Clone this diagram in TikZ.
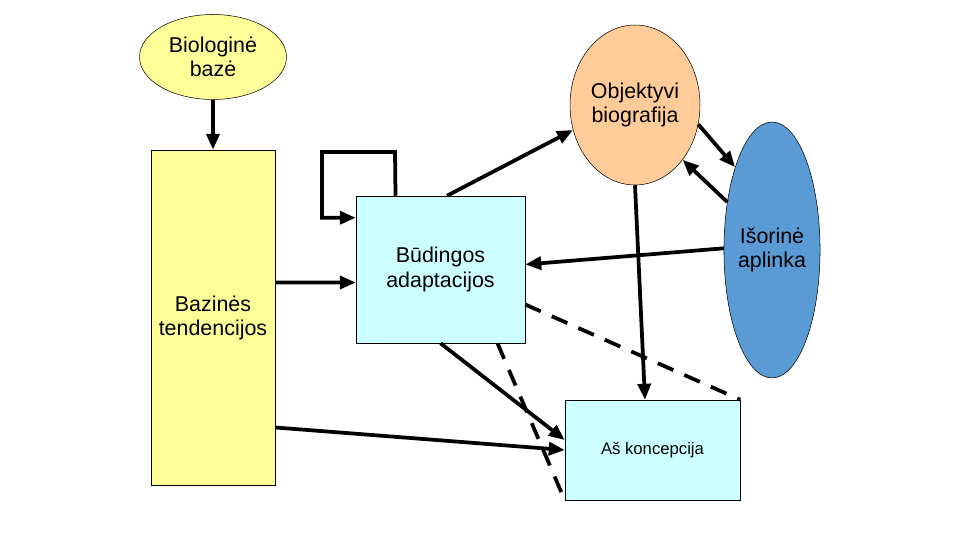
\documentclass[tikz,border=0pt]{standalone}
\usepackage{fontspec}
\setmainfont{Liberation Sans}
\usetikzlibrary{shapes.geometric, arrows.meta, positioning, calc}
\definecolor{lightyel}{HTML}{FFFF99}
\definecolor{peach}{HTML}{FFCC99}
\definecolor{paleblue}{HTML}{CCFFFF}
\definecolor{midblue}{HTML}{5B9BD5}
\tikzset{
  box/.style={draw, rectangle, line width=0.3pt, align=center, inner sep=0pt},
  blob/.style={draw, ellipse, line width=0.3pt, align=center, inner sep=0pt},
  arr/.style={-{Triangle[length=3.2mm,width=2.6mm]}, line width=0.75mm},
  dashlink/.style={line width=0.75mm, dash pattern=on 3.4mm off 2.4mm}
}
\begin{document}
\begin{tikzpicture}[x=0.02cm, y=-0.02cm, font=\fontsize{12.2}{14}\selectfont]
\useasboundingbox (0,0) rectangle (960,540);

% Ellipses
\node (bio) [blob, fill=lightyel, minimum width=2.94cm, minimum height=1.7cm] at (213,57) {Biologinė\\bazė};
\node (obj) [blob, fill=peach, minimum width=2.6cm, minimum height=3.2cm] at (635,105) {Objektyvi\\biografija};
\node (isor) [blob, fill=midblue, minimum width=1.9cm, minimum height=5.12cm] at (772,250) {Išorinė\\aplinka};

% Blocks
\node (baz) [box, fill=lightyel, minimum width=2.48cm, minimum height=6.7cm] at (213,317.5) {};
\node (baztxt) [align=center] at (213,318) {Bazinės\\tendencijos};
\node (bud) [box, fill=paleblue, minimum width=3.38cm, minimum height=2.94cm] at (440.5,269.5) {Būdingos\\adaptacijos};
\node (as) [box, fill=paleblue, minimum width=3.5cm, minimum height=2cm, font=\fontsize{9.5}{11}\selectfont] at (652.5,450) {\raisebox{-0.1cm}{Aš koncepcija}};

% Loop on the adaptations block
\coordinate (loopa) at (395,152);
\coordinate (loopb) at (322,152);
\draw[arr] ([xshift=-0.9cm]bud.north) -- (loopa) -- (loopb) |- ([yshift=-0.44cm]bud.north west);

% Solid arrows
\draw[arr] (bio.south) -- (baz.north);
\draw[arr] ([yshift=0.7cm]baz.east) -- ([yshift=-0.26cm]bud.west);
\draw[arr] ([yshift=-2.2cm]baz.east) -- (as.west);
\draw[arr] ([xshift=0.13cm]bud.north) -- (obj.-158);
\draw[arr] (obj.-17) -- (isor.114);
\draw[arr] (isor.133) -- (obj.-49);
\draw[arr] (isor.178) -- ([yshift=0.1cm]bud.east);
\draw[arr] (obj.south) -- ([xshift=-0.15cm]as.north);
\draw[arr] (bud.south) -- ([yshift=0.2cm]as.west);

% Dashed links
\draw[dashlink] ([xshift=1.14cm]bud.south) -- (as.south west);
\draw[dashlink] ([yshift=-0.7cm]bud.east) -- (as.north east);
\end{tikzpicture}
\end{document}
